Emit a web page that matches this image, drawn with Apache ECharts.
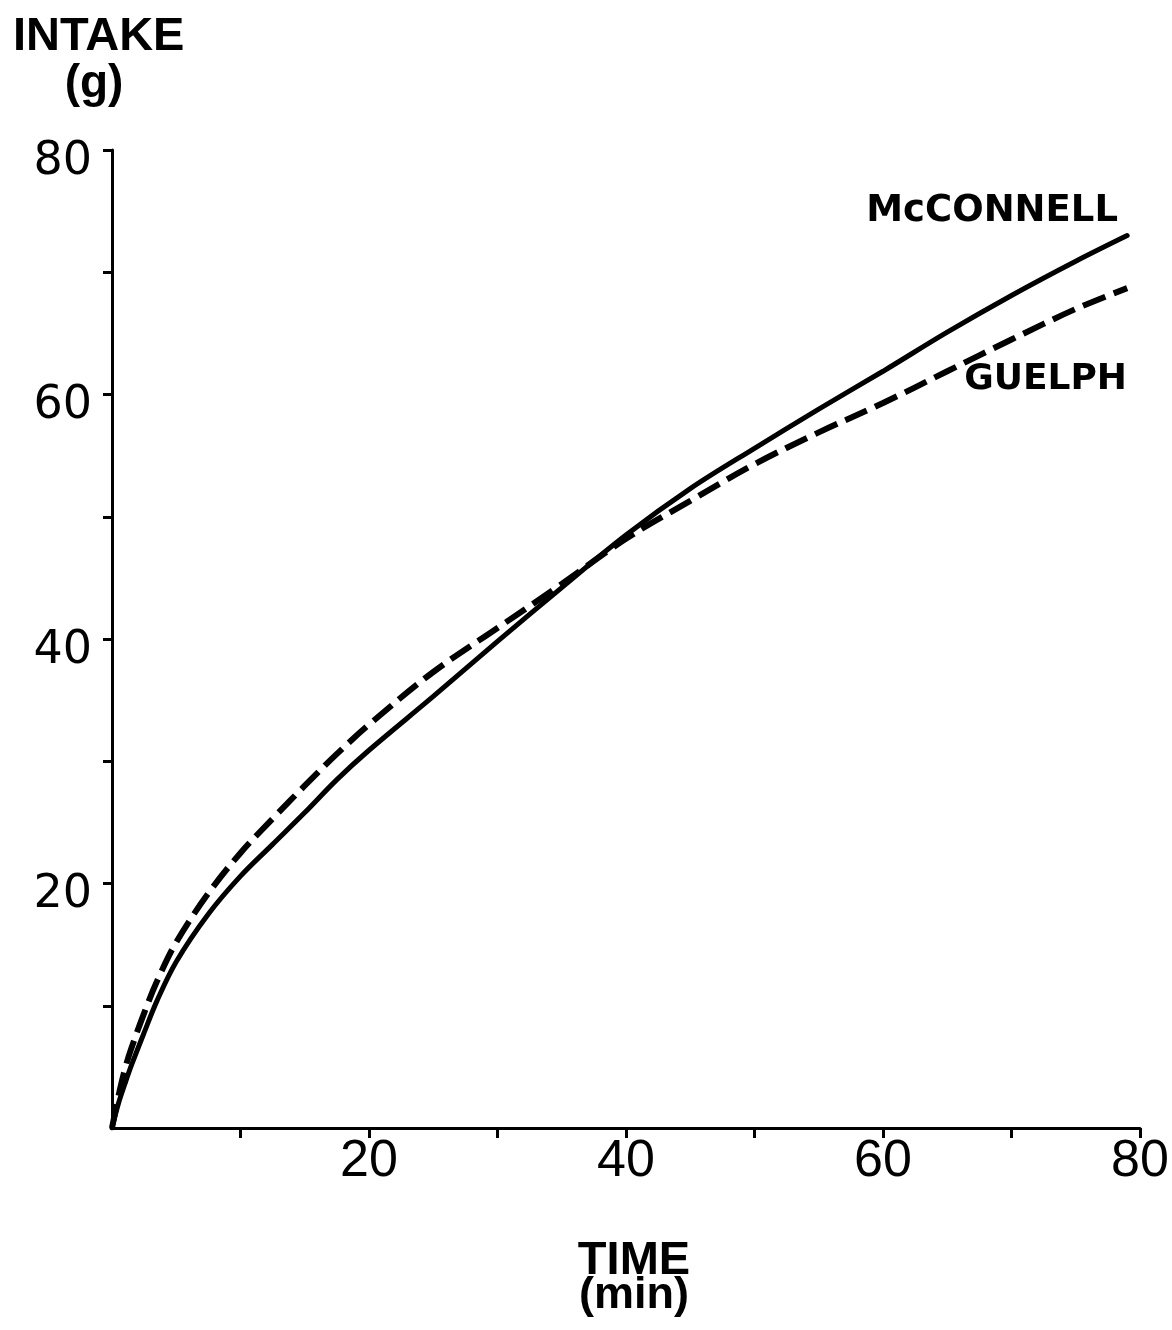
<!DOCTYPE html>
<html>
<head>
<meta charset="utf-8">
<script src="https://cdn.jsdelivr.net/npm/echarts@6/dist/echarts.min.js"></script>
<style>
  html, body { margin: 0; padding: 0; background: #ffffff; }
  #chart { width: 1172px; height: 1330px; }
</style>
</head>
<body>
<div id="chart"></div>
<script>
// ---- data ----
var time = [0, 0.5, 1, 1.5, 2.5, 3.5, 5, 7.5, 10, 12.5, 15, 17.5, 20, 25, 30, 35, 40, 45, 50, 55, 60, 65, 70, 75, 79];
var mcconnell = [0, 2.0, 3.6, 5.1, 7.8, 10.4, 13.6, 17.5, 20.6, 23.2, 25.8, 28.5, 30.9, 35.3, 39.8, 44.2, 48.5, 52.3, 55.6, 58.8, 61.9, 65.1, 68.1, 70.9, 73.0];
var guelph = [0, 2.6, 4.8, 6.5, 9.4, 12.0, 15.2, 19.2, 22.5, 25.3, 28.0, 30.6, 33.0, 37.3, 40.9, 44.5, 48.2, 51.3, 54.3, 56.9, 59.3, 61.9, 64.5, 67.0, 68.7];
var xTickValues = [10, 20, 30, 40, 50, 60, 70, 80];
var xLabelValues = [20, 40, 60, 80];
var yTickValues = [10, 20, 30, 40, 50, 60, 70, 80];
var yLabelValues = [20, 40, 60, 80];
var seriesNames = ['McCONNELL', 'GUELPH'];

function pairs(xs, ys) {
  var out = [];
  for (var i = 0; i < xs.length; i++) out.push([xs[i], ys[i]]);
  return out;
}

var chart = echarts.init(document.getElementById('chart'), null, { renderer: 'canvas' });

var option = {
  backgroundColor: '#ffffff',
  animation: false,
  grid: { left: 112, right: 32, top: 150, bottom: 202, containLabel: false },
  xAxis: {
    type: 'value',
    min: 0, max: 80, interval: 10,
    splitLine: { show: false },
    axisLine: { show: true, onZero: false, lineStyle: { color: '#000', width: 3 } },
    axisTick: { show: true, length: 10, customValues: xTickValues, lineStyle: { color: '#000', width: 3 } },
    axisLabel: {
      customValues: xLabelValues,
      color: '#000',
      fontFamily: 'Liberation Sans',
      fontSize: 52,
      margin: 8
    }
  },
  yAxis: {
    type: 'value',
    min: 0, max: 80, interval: 10,
    splitLine: { show: false },
    axisLine: { show: true, onZero: false, lineStyle: { color: '#000', width: 3 } },
    axisTick: { show: true, length: 9, customValues: yTickValues, lineStyle: { color: '#000', width: 3 } },
    axisLabel: {
      customValues: yLabelValues,
      color: '#000',
      fontFamily: 'DejaVu Sans',
      fontSize: 46,
      margin: 20,
      verticalAlign: 'top',
      lineHeight: 24
    }
  },
  series: [
    {
      name: seriesNames[0],
      type: 'line',
      data: pairs(time, mcconnell),
      showSymbol: false,
      smooth: 0.35,
      lineStyle: { color: '#000', width: 5, cap: 'round' },
      z: 3
    },
    {
      name: seriesNames[1],
      type: 'line',
      data: pairs(time, guelph),
      showSymbol: false,
      smooth: 0.35,
      lineStyle: { color: '#000', width: 6, type: [24, 9] },
      z: 2
    }
  ],
  graphic: [
    { type: 'text', left: 13, top: 14, style: { text: 'INTAKE', font: 'bold 47px "Liberation Sans"', fill: '#000' } },
    { type: 'text', x: 94, y: 84, style: { text: '(g)', font: 'bold 46px "Liberation Sans"', fill: '#000', textAlign: 'center', textVerticalAlign: 'middle' } },
    { type: 'text', x: 634, y: 1261, style: { text: 'TIME', font: 'bold 47px "Liberation Sans"', fill: '#000', textAlign: 'center', textVerticalAlign: 'middle' } },
    { type: 'text', x: 634, y: 1296, style: { text: '(min)', font: 'bold 45px "Liberation Sans"', fill: '#000', textAlign: 'center', textVerticalAlign: 'middle' } },
    { type: 'text', x: 1118, y: 211, style: { text: seriesNames[0], font: 'bold 37px "DejaVu Sans"', fill: '#000', textAlign: 'right', textVerticalAlign: 'middle' } },
    { type: 'text', x: 1127, y: 380, style: { text: seriesNames[1], font: 'bold 36px "DejaVu Sans"', fill: '#000', textAlign: 'right', textVerticalAlign: 'middle' } }
  ]
};

chart.setOption(option);
</script>
</body>
</html>
